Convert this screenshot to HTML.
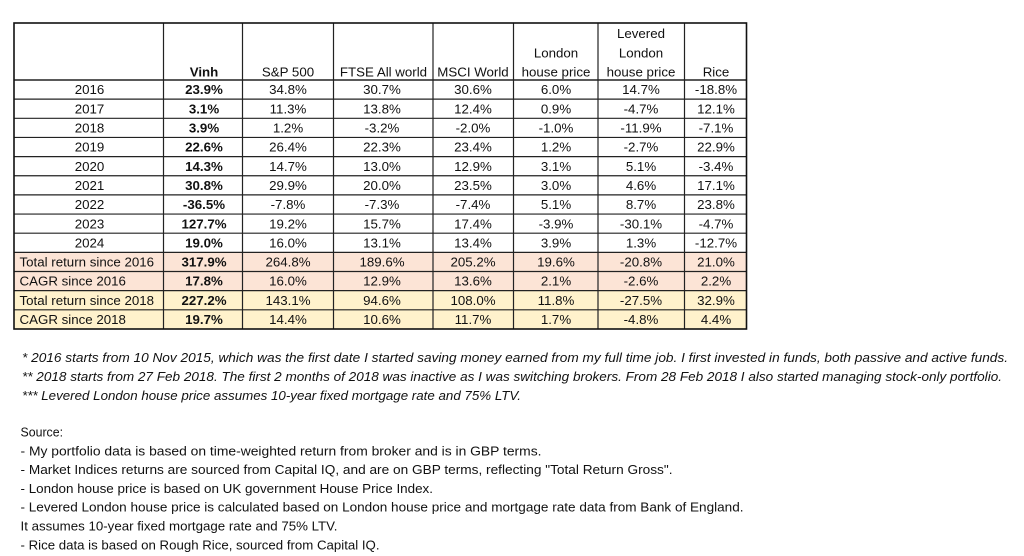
<!DOCTYPE html>
<html>
<head>
<meta charset="utf-8">
<style>
html,body{margin:0;padding:0;background:#fff;width:1024px;height:556px;overflow:hidden;}
svg{display:block;}
text{font-family:"Liberation Sans",Arial,sans-serif;font-size:13.3px;fill:#111;}
.b{font-weight:bold;}
.c{text-anchor:middle;}
.i{font-style:italic;}
</style>
</head>
<body>
<svg width="1024" height="556" viewBox="0 0 1024 556" xmlns="http://www.w3.org/2000/svg">
<rect x="0" y="0" width="1024" height="556" fill="#fff"/>
<!-- colored rows -->
<rect x="14" y="252.35" width="732.5" height="38.3" fill="#FCE4D6"/>
<rect x="14" y="290.65" width="732.5" height="38.3" fill="#FFF2CC"/>

<!-- horizontal lines -->
<g stroke="#222" stroke-width="1.2">
<line x1="14" y1="80" x2="746.5" y2="80" stroke-width="1.6"/>
<line x1="14" y1="99.15" x2="746.5" y2="99.15"/>
<line x1="14" y1="118.3" x2="746.5" y2="118.3"/>
<line x1="14" y1="137.45" x2="746.5" y2="137.45"/>
<line x1="14" y1="156.6" x2="746.5" y2="156.6"/>
<line x1="14" y1="175.75" x2="746.5" y2="175.75"/>
<line x1="14" y1="194.9" x2="746.5" y2="194.9"/>
<line x1="14" y1="214.05" x2="746.5" y2="214.05"/>
<line x1="14" y1="233.2" x2="746.5" y2="233.2"/>
<line x1="14" y1="252.35" x2="746.5" y2="252.35"/>
<line x1="14" y1="271.5" x2="746.5" y2="271.5"/>
<line x1="14" y1="290.65" x2="746.5" y2="290.65"/>
<line x1="14" y1="309.8" x2="746.5" y2="309.8"/>
</g>
<!-- vertical lines -->
<g stroke="#222" stroke-width="1.2">
<line x1="163.5" y1="23" x2="163.5" y2="329"/>
<line x1="242.5" y1="23" x2="242.5" y2="329"/>
<line x1="333.5" y1="23" x2="333.5" y2="329"/>
<line x1="433" y1="23" x2="433" y2="329"/>
<line x1="513.5" y1="23" x2="513.5" y2="329"/>
<line x1="598" y1="23" x2="598" y2="329"/>
<line x1="684.5" y1="23" x2="684.5" y2="329"/>
</g>
<!-- outer border -->
<rect x="14" y="23" width="732.5" height="306" fill="none" stroke="#111" stroke-width="1.6"/>

<!-- header -->
<text class="c b" x="204" y="76.5">Vinh</text>
<text class="c" x="288" y="76.5">S&amp;P 500</text>
<text class="c" x="383.5" y="76.5">FTSE All world</text>
<text class="c" x="473" y="76.5">MSCI World</text>
<text class="c" x="556" y="57.3">London</text>
<text class="c" x="556" y="76.5">house price</text>
<text class="c" x="641" y="38.1">Levered</text>
<text class="c" x="641" y="57.3">London</text>
<text class="c" x="641" y="76.5">house price</text>
<text class="c" x="716" y="76.5">Rice</text>

<!-- rows -->
<g>
<text class="c" x="89.5" y="94.2">2016</text>
<text class="c b" x="204" y="94.2">23.9%</text>
<text class="c" x="288" y="94.2">34.8%</text>
<text class="c" x="382" y="94.2">30.7%</text>
<text class="c" x="473" y="94.2">30.6%</text>
<text class="c" x="556" y="94.2">6.0%</text>
<text class="c" x="641" y="94.2">14.7%</text>
<text class="c" x="716" y="94.2">-18.8%</text>

<text class="c" x="89.5" y="113.35">2017</text>
<text class="c b" x="204" y="113.35">3.1%</text>
<text class="c" x="288" y="113.35">11.3%</text>
<text class="c" x="382" y="113.35">13.8%</text>
<text class="c" x="473" y="113.35">12.4%</text>
<text class="c" x="556" y="113.35">0.9%</text>
<text class="c" x="641" y="113.35">-4.7%</text>
<text class="c" x="716" y="113.35">12.1%</text>

<text class="c" x="89.5" y="132.5">2018</text>
<text class="c b" x="204" y="132.5">3.9%</text>
<text class="c" x="288" y="132.5">1.2%</text>
<text class="c" x="382" y="132.5">-3.2%</text>
<text class="c" x="473" y="132.5">-2.0%</text>
<text class="c" x="556" y="132.5">-1.0%</text>
<text class="c" x="641" y="132.5">-11.9%</text>
<text class="c" x="716" y="132.5">-7.1%</text>

<text class="c" x="89.5" y="151.65">2019</text>
<text class="c b" x="204" y="151.65">22.6%</text>
<text class="c" x="288" y="151.65">26.4%</text>
<text class="c" x="382" y="151.65">22.3%</text>
<text class="c" x="473" y="151.65">23.4%</text>
<text class="c" x="556" y="151.65">1.2%</text>
<text class="c" x="641" y="151.65">-2.7%</text>
<text class="c" x="716" y="151.65">22.9%</text>

<text class="c" x="89.5" y="170.8">2020</text>
<text class="c b" x="204" y="170.8">14.3%</text>
<text class="c" x="288" y="170.8">14.7%</text>
<text class="c" x="382" y="170.8">13.0%</text>
<text class="c" x="473" y="170.8">12.9%</text>
<text class="c" x="556" y="170.8">3.1%</text>
<text class="c" x="641" y="170.8">5.1%</text>
<text class="c" x="716" y="170.8">-3.4%</text>

<text class="c" x="89.5" y="189.95">2021</text>
<text class="c b" x="204" y="189.95">30.8%</text>
<text class="c" x="288" y="189.95">29.9%</text>
<text class="c" x="382" y="189.95">20.0%</text>
<text class="c" x="473" y="189.95">23.5%</text>
<text class="c" x="556" y="189.95">3.0%</text>
<text class="c" x="641" y="189.95">4.6%</text>
<text class="c" x="716" y="189.95">17.1%</text>

<text class="c" x="89.5" y="209.1">2022</text>
<text class="c b" x="204" y="209.1">-36.5%</text>
<text class="c" x="288" y="209.1">-7.8%</text>
<text class="c" x="382" y="209.1">-7.3%</text>
<text class="c" x="473" y="209.1">-7.4%</text>
<text class="c" x="556" y="209.1">5.1%</text>
<text class="c" x="641" y="209.1">8.7%</text>
<text class="c" x="716" y="209.1">23.8%</text>

<text class="c" x="89.5" y="228.25">2023</text>
<text class="c b" x="204" y="228.25">127.7%</text>
<text class="c" x="288" y="228.25">19.2%</text>
<text class="c" x="382" y="228.25">15.7%</text>
<text class="c" x="473" y="228.25">17.4%</text>
<text class="c" x="556" y="228.25">-3.9%</text>
<text class="c" x="641" y="228.25">-30.1%</text>
<text class="c" x="716" y="228.25">-4.7%</text>

<text class="c" x="89.5" y="247.4">2024</text>
<text class="c b" x="204" y="247.4">19.0%</text>
<text class="c" x="288" y="247.4">16.0%</text>
<text class="c" x="382" y="247.4">13.1%</text>
<text class="c" x="473" y="247.4">13.4%</text>
<text class="c" x="556" y="247.4">3.9%</text>
<text class="c" x="641" y="247.4">1.3%</text>
<text class="c" x="716" y="247.4">-12.7%</text>

<text x="19.5" y="266.55">Total return since 2016</text>
<text class="c b" x="204" y="266.55">317.9%</text>
<text class="c" x="288" y="266.55">264.8%</text>
<text class="c" x="382" y="266.55">189.6%</text>
<text class="c" x="473" y="266.55">205.2%</text>
<text class="c" x="556" y="266.55">19.6%</text>
<text class="c" x="641" y="266.55">-20.8%</text>
<text class="c" x="716" y="266.55">21.0%</text>

<text x="19.5" y="285.7">CAGR since 2016</text>
<text class="c b" x="204" y="285.7">17.8%</text>
<text class="c" x="288" y="285.7">16.0%</text>
<text class="c" x="382" y="285.7">12.9%</text>
<text class="c" x="473" y="285.7">13.6%</text>
<text class="c" x="556" y="285.7">2.1%</text>
<text class="c" x="641" y="285.7">-2.6%</text>
<text class="c" x="716" y="285.7">2.2%</text>

<text x="19.5" y="304.85">Total return since 2018</text>
<text class="c b" x="204" y="304.85">227.2%</text>
<text class="c" x="288" y="304.85">143.1%</text>
<text class="c" x="382" y="304.85">94.6%</text>
<text class="c" x="473" y="304.85">108.0%</text>
<text class="c" x="556" y="304.85">11.8%</text>
<text class="c" x="641" y="304.85">-27.5%</text>
<text class="c" x="716" y="304.85">32.9%</text>

<text x="19.5" y="324">CAGR since 2018</text>
<text class="c b" x="204" y="324">19.7%</text>
<text class="c" x="288" y="324">14.4%</text>
<text class="c" x="382" y="324">10.6%</text>
<text class="c" x="473" y="324">11.7%</text>
<text class="c" x="556" y="324">1.7%</text>
<text class="c" x="641" y="324">-4.8%</text>
<text class="c" x="716" y="324">4.4%</text>
</g>

<!-- footnotes -->
<text class="i" x="22" y="362" textLength="986" lengthAdjust="spacingAndGlyphs">* 2016 starts from 10 Nov 2015, which was the first date I started saving money earned from my full time job. I first invested in funds, both passive and active funds.</text>
<text class="i" x="22" y="381" textLength="980" lengthAdjust="spacingAndGlyphs">** 2018 starts from 27 Feb 2018. The first 2 months of 2018 was inactive as I was switching brokers. From 28 Feb 2018 I also started managing stock-only portfolio.</text>
<text class="i" x="22" y="400" textLength="499" lengthAdjust="spacingAndGlyphs">*** Levered London house price assumes 10-year fixed mortgage rate and 75% LTV.</text>

<!-- sources -->
<text x="20.5" y="436.5" textLength="42.5" lengthAdjust="spacingAndGlyphs">Source:</text>
<text x="20.5" y="455.3" textLength="521" lengthAdjust="spacingAndGlyphs">- My portfolio data is based on time-weighted return from broker and is in GBP terms.</text>
<text x="20.5" y="474.1" textLength="652" lengthAdjust="spacingAndGlyphs">- Market Indices returns are sourced from Capital IQ, and are on GBP terms, reflecting "Total Return Gross".</text>
<text x="20.5" y="492.9" textLength="412.5" lengthAdjust="spacingAndGlyphs">- London house price is based on UK government House Price Index.</text>
<text x="20.5" y="511.7" textLength="723" lengthAdjust="spacingAndGlyphs">- Levered London house price is calculated based on London house price and mortgage rate data from Bank of England.</text>
<text x="20.5" y="530.5" textLength="317" lengthAdjust="spacingAndGlyphs">It assumes 10-year fixed mortgage rate and 75% LTV.</text>
<text x="20.5" y="549.3" textLength="359" lengthAdjust="spacingAndGlyphs">- Rice data is based on Rough Rice, sourced from Capital IQ.</text>
</svg>
</body>
</html>
